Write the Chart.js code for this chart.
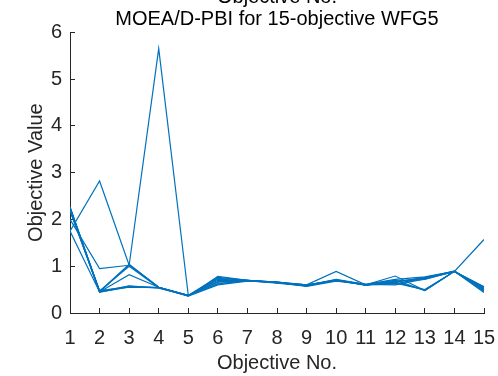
<!DOCTYPE html>
<html>
<head>
<meta charset="utf-8">
<script src="https://cdn.jsdelivr.net/npm/chart.js@4.4.1/dist/chart.umd.min.js"></script>
<style>
  html, body { margin: 0; padding: 0; background: #fff; }
  #wrap { position: relative; width: 498px; height: 376px; overflow: hidden; }
  #chart { position: absolute; left: 0; top: -24px; }
</style>
</head>
<body>
<div id="wrap"><canvas id="chart" width="498" height="400"></canvas></div>
<script>
// objective numbers on the x axis
var objectives = [1,2,3,4,5,6,7,8,9,10,11,12,13,14,15];

// one row per solution
var sol1  = [1.75, 2.82, 1.02, 5.65, 0.38, 0.62, 0.69, 0.66, 0.58, 0.70, 0.60, 0.66, 0.76, 0.89, 1.57];
var sol2  = [2.00, 0.95, 1.02, 0.55, 0.38, 0.76, 0.70, 0.65, 0.60, 0.89, 0.60, 0.79, 0.48, 0.89, 0.48];
var sol3  = [1.75, 0.45, 0.82, 0.55, 0.37, 0.70, 0.69, 0.65, 0.59, 0.71, 0.60, 0.67, 0.72, 0.89, 0.50];
var sol4  = [2.27, 0.45, 1.03, 0.55, 0.37, 0.74, 0.70, 0.66, 0.58, 0.70, 0.60, 0.70, 0.48, 0.89, 0.52];
var sol5  = [2.25, 0.47, 1.00, 0.54, 0.38, 0.66, 0.69, 0.65, 0.59, 0.72, 0.61, 0.64, 0.50, 0.89, 0.55];
var sol6  = [2.22, 0.44, 0.57, 0.54, 0.36, 0.60, 0.68, 0.66, 0.60, 0.70, 0.59, 0.68, 0.74, 0.90, 0.50];
var sol7  = [2.20, 0.46, 0.58, 0.53, 0.37, 0.63, 0.70, 0.65, 0.57, 0.68, 0.61, 0.72, 0.77, 0.89, 0.46];
var sol8  = [2.18, 0.48, 0.56, 0.55, 0.38, 0.67, 0.69, 0.64, 0.58, 0.71, 0.60, 0.62, 0.75, 0.88, 0.53];
var sol9  = [2.24, 0.45, 0.55, 0.54, 0.37, 0.72, 0.70, 0.66, 0.60, 0.69, 0.60, 0.66, 0.49, 0.89, 0.56];
var sol10 = [2.26, 0.46, 1.04, 0.55, 0.36, 0.78, 0.70, 0.65, 0.59, 0.70, 0.61, 0.60, 0.73, 0.89, 0.44];

var solutions = [sol1, sol2, sol3, sol4, sol5, sol6, sol7, sol8, sol9, sol10];
var yTicks = [0,1,2,3,4,5,6];

var lineColor = 'rgb(0,114,189)';
var axisColor = '#262626';
var fontFamily = '"Liberation Sans", Arial, Helvetica, sans-serif';

var datasets = solutions.map(function (vals) {
    return {
        data: vals.map(function (v, i) { return { x: objectives[i], y: v }; }),
        borderColor: lineColor,
        borderWidth: 1.2,
        pointRadius: 0,
        fill: false,
        tension: 0
    };
});

var ctx = document.getElementById('chart').getContext('2d');
var myChart = new Chart(ctx, {
    type: 'line',
    data: { datasets: datasets },
    options: {
        responsive: false,
        animation: false,
        events: [],
        layout: { padding: { top: 11, left: 0, right: 14, bottom: 0 } },
        plugins: {
            legend: { display: false },
            tooltip: { enabled: false },
            title: {
                display: true,
                fullSize: false, // centre over the plot area like MATLAB
                text: ['Objective No.', 'MOEA/D-PBI for 15-objective WFG5'],
                color: '#000',
                font: { family: fontFamily, size: 20, weight: 'normal', lineHeight: 1.08 },
                padding: { top: 0, bottom: 2 }
            }
        },
        scales: {
            x: {
                type: 'linear',
                min: 1,
                max: 15,
                afterFit: function (scale) {
                    scale.height = 63;
                    // keep the label overhang small so the axis reaches x=15 near the edge
                    scale.paddingLeft = 0;
                    scale.paddingRight = 12;
                },
                afterBuildTicks: function (scale) {
                    scale.ticks = objectives.map(function (v) { return { value: v }; });
                },
                ticks: {
                    color: axisColor,
                    font: { family: fontFamily, size: 20 },
                    padding: 18,
                    maxRotation: 0,
                    autoSkip: false
                },
                grid: { drawOnChartArea: false, tickLength: -5, color: axisColor },
                border: { color: axisColor, width: 1 },
                title: {
                    display: true,
                    text: 'Objective No.',
                    color: axisColor,
                    font: { family: fontFamily, size: 20 },
                    padding: { top: 0, bottom: 1 }
                }
            },
            y: {
                min: 0,
                max: 6,
                afterFit: function (scale) { scale.width = 70; },
                afterBuildTicks: function (scale) {
                    scale.ticks = yTicks.map(function (v) { return { value: v }; });
                },
                ticks: {
                    color: axisColor,
                    font: { family: fontFamily, size: 20 },
                    padding: 13
                },
                grid: { drawOnChartArea: false, tickLength: -5, color: axisColor },
                border: { color: axisColor, width: 1 },
                title: {
                    display: true,
                    text: 'Objective Value',
                    color: axisColor,
                    font: { family: fontFamily, size: 20 },
                    padding: { top: 24, bottom: 0 }
                }
            }
        }
    }
});
</script>
</body>
</html>
